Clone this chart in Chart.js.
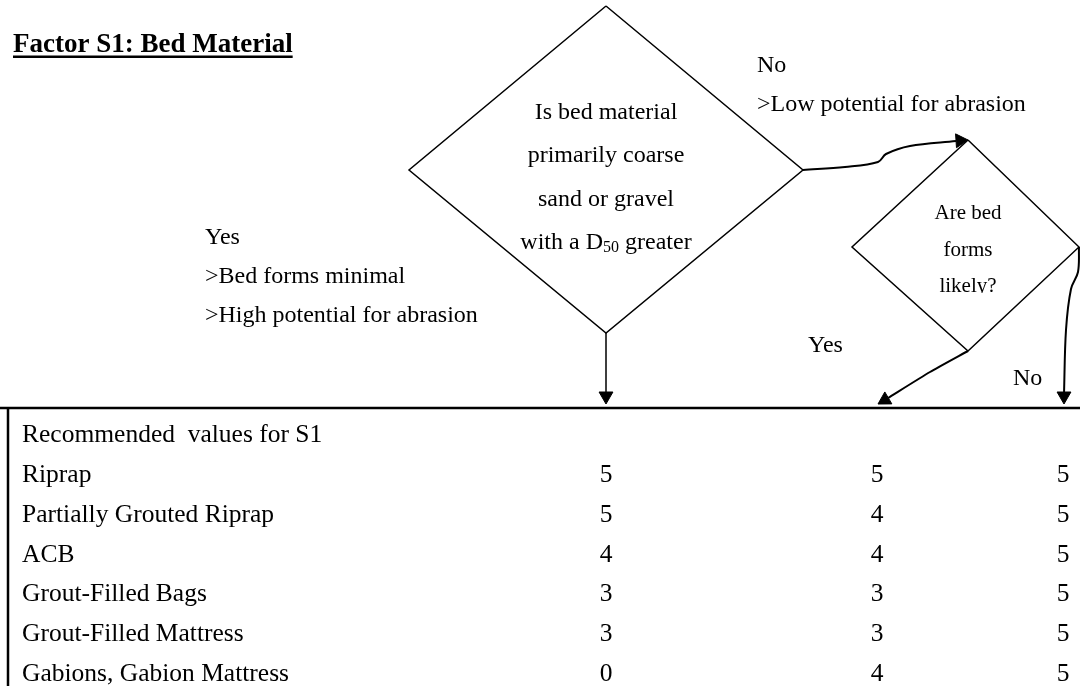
<!DOCTYPE html>
<html><head><meta charset="utf-8">
<script src="https://cdn.jsdelivr.net/npm/chart.js@4/dist/chart.umd.min.js"></script>
<style>html,body{margin:0;padding:0;background:#fff}#wrap{width:1080px;height:686px;position:relative}</style>
</head><body><div id="wrap"><canvas id="c"></canvas></div>
<script>
// ---- content ----
const title = 'Factor S1: Bed Material';
const question1 = ['Is bed material', 'primarily coarse', 'sand or gravel', 'with a D|50| greater'];
const question2 = ['Are bed', 'forms', 'likely?'];
const yesLeft = ['Yes', '>Bed forms minimal', '>High potential for abrasion'];
const noTop = ['No', '>Low potential for abrasion'];
const yesRight = 'Yes';
const noRight = 'No';
const tableHeader = 'Recommended  values for S1';
const materials = ['Riprap', 'Partially Grouted Riprap', 'ACB', 'Grout-Filled Bags', 'Grout-Filled Mattress', 'Gabions, Gabion Mattress'];
const valuesCoarse = [5, 5, 4, 3, 3, 0];
const valuesBedForms = [5, 4, 4, 3, 3, 4];
const valuesNoBedForms = [5, 5, 5, 5, 5, 5];

// ---- layout (pixel space of the hidden scales) ----
const W = 1080, H = 686;
const TY = 2.5;                        // text vertical nudge
const ROW0 = 433 + TY, ROW_STEP = 39.8;
const COL_X = [606, 877, 1063];
const LABEL_X = 22;
const FONT = '"Liberation Serif", "Times New Roman", serif';
const BIG = {cx: 606, top: 6, bottom: 333, left: 409, right: 803, mid: 170};
const SMALL = {cx: 968, top: 140, bottom: 351, left: 852, right: 1079, mid: 247};
const TABLE_TOP = 408, TABLE_LEFT = 8;

const black = '#000';
function lineDS(points, width, tension) {
  return {type: 'line', data: points.map(p => ({x: p[0], y: p[1]})), borderColor: black,
    borderWidth: width, pointRadius: 0, tension: tension || 0, fill: false, clip: false, showLine: true};
}
function arrowHead(tip, from, r) {
  const dx = tip[0] - from[0], dy = tip[1] - from[1];
  const L = Math.hypot(dx, dy);
  const ux = dx / L, uy = dy / L;
  const rot = Math.atan2(dx, -dy) * 180 / Math.PI;
  return {type: 'scatter', data: [{x: tip[0] - ux * r, y: tip[1] - uy * r}], pointStyle: 'triangle',
    pointRadius: r, pointRotation: rot, backgroundColor: black, borderColor: black, borderWidth: 1, clip: false};
}

const datasets = [
  lineDS([[BIG.cx, BIG.top], [BIG.right, BIG.mid], [BIG.cx, BIG.bottom], [BIG.left, BIG.mid], [BIG.cx, BIG.top]], 1.5),
  lineDS([[SMALL.cx, SMALL.top], [SMALL.right, SMALL.mid], [SMALL.cx, SMALL.bottom], [SMALL.left, SMALL.mid], [SMALL.cx, SMALL.top]], 1.5),
  lineDS([[BIG.cx, BIG.bottom], [BIG.cx, 394]], 1.5),
  arrowHead([BIG.cx, 404], [BIG.cx, BIG.bottom], 8),
  lineDS([[BIG.right, BIG.mid], [845, 167], [878, 162], [886, 154], [910, 146], [956, 141]], 2, 0.35),
  arrowHead([968, 140], [948, 141.3], 8),
  lineDS([[SMALL.cx, SMALL.bottom], [930, 372], [888, 398]], 2, 0.2),
  arrowHead([878, 404], [SMALL.cx, SMALL.bottom], 8),
  lineDS([[SMALL.right, SMALL.mid], [1078, 272], [1071, 289], [1066, 330], [1064, 394]], 2, 0.35),
  arrowHead([1064, 404], [1064, 380], 8),
  lineDS([[0, TABLE_TOP], [W, TABLE_TOP]], 2.5),
  lineDS([[TABLE_LEFT, TABLE_TOP], [TABLE_LEFT, H]], 2.5)
];
[valuesCoarse, valuesBedForms, valuesNoBedForms].forEach((vals, c) => {
  datasets.push({type: 'scatter', label: 'col' + c, yAxisID: 'yRows', isTable: true,
    data: vals.map((v, i) => ({x: COL_X[c], y: i + 1, v: v})), pointRadius: 0, clip: false});
});

const textPlugin = {
  id: 'flowText',
  afterDatasetsDraw(chart) {
    const ctx = chart.ctx, sx = chart.scales.x, sy = chart.scales.y, sr = chart.scales.yRows;
    const P = (x, y) => [sx.getPixelForValue(x), sy.getPixelForValue(y + TY)];
    ctx.save();
    ctx.fillStyle = black;
    ctx.textBaseline = 'middle';
    ctx.font = 'bold 27px ' + FONT;
    ctx.textAlign = 'left';
    let [tx, ty] = P(13, 43);
    ctx.fillText(title, tx, ty);
    const tw = ctx.measureText(title).width;
    ctx.fillRect(tx, sy.getPixelForValue(55.5), tw, 2.5);
    question1.forEach((line, i) => {
      const [x, y] = P(BIG.cx, 110 + i * 43.5);
      const parts = line.split('|');
      ctx.font = '24px ' + FONT;
      if (parts.length === 1) { ctx.textAlign = 'center'; ctx.fillText(line, x, y); return; }
      const w0 = ctx.measureText(parts[0]).width, w2 = ctx.measureText(parts[2]).width;
      ctx.font = '16px ' + FONT;
      const w1 = ctx.measureText(parts[1]).width;
      let cx = x - (w0 + w1 + w2) / 2;
      ctx.textAlign = 'left';
      ctx.font = '24px ' + FONT; ctx.fillText(parts[0], cx, y); cx += w0;
      ctx.font = '16px ' + FONT; ctx.fillText(parts[1], cx, y + 5); cx += w1;
      ctx.font = '24px ' + FONT; ctx.fillText(parts[2], cx, y);
    });
    ctx.save();
    ctx.beginPath(); ctx.rect(0, 0, W, sy.getPixelForValue(293)); ctx.clip();
    ctx.font = '21px ' + FONT; ctx.textAlign = 'center';
    question2.forEach((line, i) => { const [x, y] = P(SMALL.cx, 211 + i * 36.5); ctx.fillText(line, x, y); });
    ctx.restore();
    ctx.font = '24px ' + FONT; ctx.textAlign = 'left';
    yesLeft.forEach((line, i) => { const [x, y] = P(205, 235 + i * 39); ctx.fillText(line, x, y); });
    noTop.forEach((line, i) => { const [x, y] = P(757, 63 + i * 39.5); ctx.fillText(line, x, y); });
    let [a, b] = P(808, 343); ctx.fillText(yesRight, a, b);
    [a, b] = P(1013, 376); ctx.fillText(noRight, a, b);
    ctx.font = '25.5px ' + FONT;
    ctx.fillText(tableHeader, sx.getPixelForValue(LABEL_X), sr.getPixelForValue(0));
    materials.forEach((m, i) => ctx.fillText(m, sx.getPixelForValue(LABEL_X), sr.getPixelForValue(i + 1)));
    ctx.textAlign = 'center';
    chart.data.datasets.forEach((ds, di) => {
      if (!ds.isTable) return;
      chart.getDatasetMeta(di).data.forEach((el, i) => ctx.fillText(String(ds.data[i].v), el.x, el.y));
    });
    ctx.restore();
  }
};

new Chart(document.getElementById('c'), {
  type: 'scatter',
  data: {datasets},
  options: {
    responsive: true, maintainAspectRatio: false, animation: false, devicePixelRatio: 1,
    layout: {padding: 0, autoPadding: false},
    plugins: {legend: {display: false}, tooltip: {enabled: false}, title: {display: false}},
    events: [],
    scales: {
      x: {type: 'linear', min: 0, max: W, display: false},
      y: {type: 'linear', min: 0, max: H, reverse: true, display: false},
      yRows: {type: 'linear', min: -ROW0 / ROW_STEP, max: (H - ROW0) / ROW_STEP, reverse: true, display: false}
    }
  },
  plugins: [textPlugin]
});
</script>
</body></html>
